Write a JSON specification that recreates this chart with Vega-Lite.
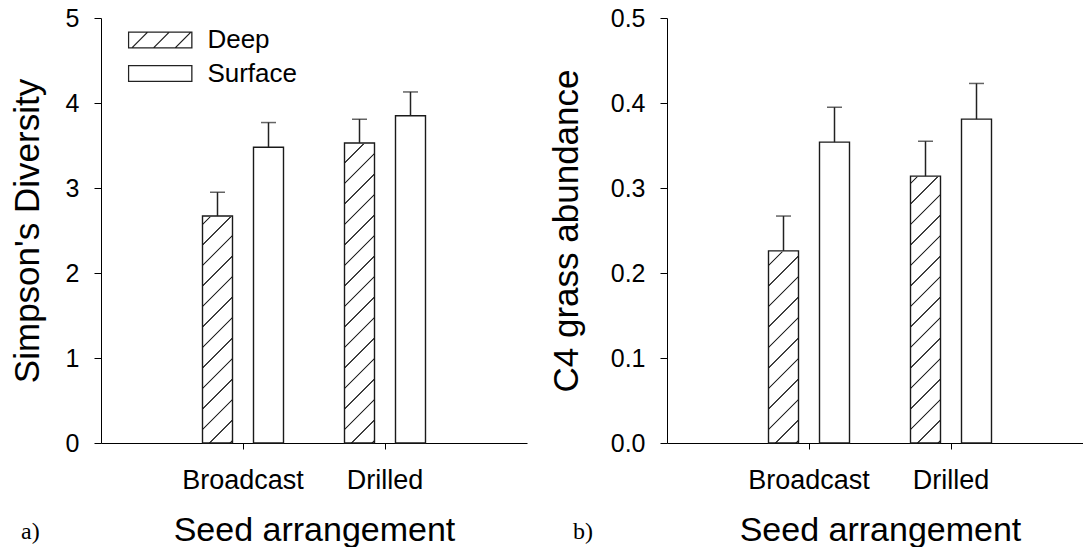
{
  "$schema": "https://vega.github.io/schema/vega-lite/v6.json",
  "padding": {"left": 10, "top": 6, "right": 0, "bottom": 0},
  "bounds": "flush",
  "spacing": 140,
  "config": {
    "view": {"stroke": null},
    "font": "Liberation Sans",
    "axis": {
      "grid": false,
      "domainColor": "#000",
      "tickColor": "#000",
      "labelColor": "#000",
      "titleColor": "#000",
      "titleFontWeight": "normal",
      "labelFont": "Liberation Sans",
      "titleFont": "Liberation Sans",
      "domainWidth": 1,
      "tickWidth": 1
    }
  },
  "hconcat": [
    {
      "width": 426,
      "height": 425,
      "title": {"text": "a)", "orient": "bottom", "anchor": "start", "frame": "group", "font": "Liberation Serif", "fontSize": 24, "fontWeight": "normal", "color": "#000", "baseline": "alphabetic", "offset": -8, "dx": -80},
      "data": {"values": [
        {"arrangement": "Broadcast", "depth": "Deep", "mean": 2.67, "upper": 2.95},
        {"arrangement": "Broadcast", "depth": "Surface", "mean": 3.48, "upper": 3.77},
        {"arrangement": "Drilled", "depth": "Deep", "mean": 3.53, "upper": 3.81},
        {"arrangement": "Drilled", "depth": "Surface", "mean": 3.85, "upper": 4.13}
      ]},
      "encoding": {
        "x": {"field": "arrangement", "type": "nominal", "sort": ["Broadcast", "Drilled"],
              "scale": {"paddingInner": 0.4296, "paddingOuter": 0.7148},
              "axis": {"title": "Seed arrangement", "labelAngle": 0, "tickSize": 6, "labelPadding": 18, "labelFontSize": 27, "titleFontSize": 34, "titlePadding": 20}},
        "xOffset": {"field": "depth", "type": "nominal", "sort": ["Deep", "Surface"],
                    "scale": {"paddingInner": 0.4118, "paddingOuter": 0}}
      },
      "layer": [
        {
          "transform": [{"filter": "datum.depth === 'Deep'"}],
          "mark": {"type": "bar", "strokeWidth": 0, "fill": {"gradient": "linear", "x1": 0, "y1": 0, "x2": 0.07602, "y2": 1.07699, "stops": [
            {"offset": 0, "color": "#fff"},
            {"offset": 0.04522, "color": "#fff"}, {"offset": 0.04696, "color": "#222"}, {"offset": 0.04870, "color": "#222"}, {"offset": 0.05044, "color": "#fff"},
            {"offset": 0.08978, "color": "#fff"}, {"offset": 0.09152, "color": "#222"}, {"offset": 0.09326, "color": "#222"}, {"offset": 0.09500, "color": "#fff"},
            {"offset": 0.13435, "color": "#fff"}, {"offset": 0.13609, "color": "#222"}, {"offset": 0.13783, "color": "#222"}, {"offset": 0.13957, "color": "#fff"},
            {"offset": 0.17891, "color": "#fff"}, {"offset": 0.18065, "color": "#222"}, {"offset": 0.18239, "color": "#222"}, {"offset": 0.18413, "color": "#fff"},
            {"offset": 0.22348, "color": "#fff"}, {"offset": 0.22522, "color": "#222"}, {"offset": 0.22696, "color": "#222"}, {"offset": 0.22870, "color": "#fff"},
            {"offset": 0.26804, "color": "#fff"}, {"offset": 0.26978, "color": "#222"}, {"offset": 0.27152, "color": "#222"}, {"offset": 0.27326, "color": "#fff"},
            {"offset": 0.31261, "color": "#fff"}, {"offset": 0.31435, "color": "#222"}, {"offset": 0.31609, "color": "#222"}, {"offset": 0.31783, "color": "#fff"},
            {"offset": 0.35717, "color": "#fff"}, {"offset": 0.35891, "color": "#222"}, {"offset": 0.36065, "color": "#222"}, {"offset": 0.36239, "color": "#fff"},
            {"offset": 0.40174, "color": "#fff"}, {"offset": 0.40348, "color": "#222"}, {"offset": 0.40522, "color": "#222"}, {"offset": 0.40696, "color": "#fff"},
            {"offset": 0.44630, "color": "#fff"}, {"offset": 0.44804, "color": "#222"}, {"offset": 0.44978, "color": "#222"}, {"offset": 0.45152, "color": "#fff"},
            {"offset": 0.49087, "color": "#fff"}, {"offset": 0.49261, "color": "#222"}, {"offset": 0.49435, "color": "#222"}, {"offset": 0.49609, "color": "#fff"},
            {"offset": 0.53543, "color": "#fff"}, {"offset": 0.53717, "color": "#222"}, {"offset": 0.53891, "color": "#222"}, {"offset": 0.54065, "color": "#fff"},
            {"offset": 0.58000, "color": "#fff"}, {"offset": 0.58174, "color": "#222"}, {"offset": 0.58348, "color": "#222"}, {"offset": 0.58522, "color": "#fff"},
            {"offset": 0.62457, "color": "#fff"}, {"offset": 0.62630, "color": "#222"}, {"offset": 0.62804, "color": "#222"}, {"offset": 0.62978, "color": "#fff"},
            {"offset": 0.66913, "color": "#fff"}, {"offset": 0.67087, "color": "#222"}, {"offset": 0.67261, "color": "#222"}, {"offset": 0.67435, "color": "#fff"},
            {"offset": 0.71370, "color": "#fff"}, {"offset": 0.71543, "color": "#222"}, {"offset": 0.71717, "color": "#222"}, {"offset": 0.71891, "color": "#fff"},
            {"offset": 0.75826, "color": "#fff"}, {"offset": 0.76000, "color": "#222"}, {"offset": 0.76174, "color": "#222"}, {"offset": 0.76348, "color": "#fff"},
            {"offset": 0.80283, "color": "#fff"}, {"offset": 0.80457, "color": "#222"}, {"offset": 0.80630, "color": "#222"}, {"offset": 0.80804, "color": "#fff"},
            {"offset": 0.84739, "color": "#fff"}, {"offset": 0.84913, "color": "#222"}, {"offset": 0.85087, "color": "#222"}, {"offset": 0.85261, "color": "#fff"},
            {"offset": 0.89196, "color": "#fff"}, {"offset": 0.89370, "color": "#222"}, {"offset": 0.89543, "color": "#222"}, {"offset": 0.89717, "color": "#fff"},
            {"offset": 0.93652, "color": "#fff"}, {"offset": 0.93826, "color": "#222"}, {"offset": 0.94000, "color": "#222"}, {"offset": 0.94174, "color": "#fff"},
            {"offset": 0.98109, "color": "#fff"}, {"offset": 0.98283, "color": "#222"}, {"offset": 0.98457, "color": "#222"}, {"offset": 0.98630, "color": "#fff"},
            {"offset": 1, "color": "#fff"}
          ]}},
          "encoding": {
            "y": {"datum": 5, "type": "quantitative", "title": "Simpson's Diversity", "scale": {"domain": [0, 5], "nice": false}},
            "y2": {"datum": 0}
          }
        },
        {
          "transform": [{"filter": "datum.depth === 'Deep'"}],
          "mark": {"type": "bar", "fill": "#fff", "stroke": "#fff", "strokeWidth": 1.5},
          "encoding": {
            "y": {"field": "mean", "type": "quantitative", "title": "Simpson's Diversity"},
            "y2": {"datum": 5}
          }
        },
        {
          "mark": {"type": "bar", "fill": "#fff", "fillOpacity": 0, "stroke": "#1a1a1a", "strokeWidth": 1.4},
          "encoding": {
            "y": {"field": "mean", "type": "quantitative", "title": "Simpson's Diversity",
                  "scale": {"domain": [0, 5], "nice": false},
                  "axis": {"values": [0, 1, 2, 3, 4, 5], "format": "d", "tickSize": 7, "labelPadding": 15, "labelFontSize": 25, "titleFontSize": 35, "titlePadding": 20}},
            "y2": {"datum": 0}
          }
        },
        {
          "mark": {"type": "rule", "color": "#222", "strokeWidth": 1.5},
          "encoding": {
            "y": {"field": "mean", "type": "quantitative", "title": "Simpson's Diversity"},
            "y2": {"field": "upper"}
          }
        },
        {
          "mark": {"type": "tick", "color": "#222", "size": 15, "thickness": 1.5},
          "encoding": {
            "y": {"field": "upper", "type": "quantitative", "title": "Simpson's Diversity"}
          }
        },
        {
          "mark": {"type": "point", "filled": false, "opacity": 0},
          "encoding": {
            "y": {"field": "mean", "type": "quantitative", "title": "Simpson's Diversity"},
            "shape": {"field": "depth", "type": "nominal",
              "scale": {"domain": ["Deep", "Surface"], "range": [
                "M-1,-0.248H1V0.248H-1Z M-0.894,0.248L-0.398,-0.248 M-0.211,0.248L0.285,-0.248 M0.474,0.248L0.97,-0.248",
                "M-1,-0.248H1V0.248H-1Z"
              ]},
              "legend": {"title": null, "orient": "none", "legendX": 26.7, "legendY": 7, "padding": 0,
                "symbolSize": 4007, "symbolStrokeColor": "#222", "symbolStrokeWidth": 1.3, "symbolFillColor": "transparent", "symbolOpacity": 1,
                "labelFontSize": 26, "labelFont": "Liberation Sans", "labelColor": "#000", "labelOffset": 14.7,
                "clipHeight": 30, "rowPadding": 3.5}}
          }
        }
      ]
    },
    {
      "width": 426,
      "height": 425,
      "title": {"text": "b)", "orient": "bottom", "anchor": "start", "frame": "group", "font": "Liberation Serif", "fontSize": 24, "fontWeight": "normal", "color": "#000", "baseline": "alphabetic", "offset": -8, "dx": -94},
      "data": {"values": [
        {"arrangement": "Broadcast", "depth": "Deep", "mean": 0.226, "upper": 0.267},
        {"arrangement": "Broadcast", "depth": "Surface", "mean": 0.354, "upper": 0.395},
        {"arrangement": "Drilled", "depth": "Deep", "mean": 0.314, "upper": 0.355},
        {"arrangement": "Drilled", "depth": "Surface", "mean": 0.381, "upper": 0.423}
      ]},
      "encoding": {
        "x": {"field": "arrangement", "type": "nominal", "sort": ["Broadcast", "Drilled"],
              "scale": {"paddingInner": 0.4296, "paddingOuter": 0.7148},
              "axis": {"title": "Seed arrangement", "labelAngle": 0, "tickSize": 6, "labelPadding": 18, "labelFontSize": 27, "titleFontSize": 34, "titlePadding": 20}},
        "xOffset": {"field": "depth", "type": "nominal", "sort": ["Deep", "Surface"],
                    "scale": {"paddingInner": 0.4118, "paddingOuter": 0}}
      },
      "layer": [
        {
          "transform": [{"filter": "datum.depth === 'Deep'"}],
          "mark": {"type": "bar", "strokeWidth": 0, "fill": {"gradient": "linear", "x1": 0, "y1": 0, "x2": 0.07602, "y2": 1.07699, "stops": [
            {"offset": 0, "color": "#fff"},
            {"offset": 0.04522, "color": "#fff"}, {"offset": 0.04696, "color": "#222"}, {"offset": 0.04870, "color": "#222"}, {"offset": 0.05044, "color": "#fff"},
            {"offset": 0.08978, "color": "#fff"}, {"offset": 0.09152, "color": "#222"}, {"offset": 0.09326, "color": "#222"}, {"offset": 0.09500, "color": "#fff"},
            {"offset": 0.13435, "color": "#fff"}, {"offset": 0.13609, "color": "#222"}, {"offset": 0.13783, "color": "#222"}, {"offset": 0.13957, "color": "#fff"},
            {"offset": 0.17891, "color": "#fff"}, {"offset": 0.18065, "color": "#222"}, {"offset": 0.18239, "color": "#222"}, {"offset": 0.18413, "color": "#fff"},
            {"offset": 0.22348, "color": "#fff"}, {"offset": 0.22522, "color": "#222"}, {"offset": 0.22696, "color": "#222"}, {"offset": 0.22870, "color": "#fff"},
            {"offset": 0.26804, "color": "#fff"}, {"offset": 0.26978, "color": "#222"}, {"offset": 0.27152, "color": "#222"}, {"offset": 0.27326, "color": "#fff"},
            {"offset": 0.31261, "color": "#fff"}, {"offset": 0.31435, "color": "#222"}, {"offset": 0.31609, "color": "#222"}, {"offset": 0.31783, "color": "#fff"},
            {"offset": 0.35717, "color": "#fff"}, {"offset": 0.35891, "color": "#222"}, {"offset": 0.36065, "color": "#222"}, {"offset": 0.36239, "color": "#fff"},
            {"offset": 0.40174, "color": "#fff"}, {"offset": 0.40348, "color": "#222"}, {"offset": 0.40522, "color": "#222"}, {"offset": 0.40696, "color": "#fff"},
            {"offset": 0.44630, "color": "#fff"}, {"offset": 0.44804, "color": "#222"}, {"offset": 0.44978, "color": "#222"}, {"offset": 0.45152, "color": "#fff"},
            {"offset": 0.49087, "color": "#fff"}, {"offset": 0.49261, "color": "#222"}, {"offset": 0.49435, "color": "#222"}, {"offset": 0.49609, "color": "#fff"},
            {"offset": 0.53543, "color": "#fff"}, {"offset": 0.53717, "color": "#222"}, {"offset": 0.53891, "color": "#222"}, {"offset": 0.54065, "color": "#fff"},
            {"offset": 0.58000, "color": "#fff"}, {"offset": 0.58174, "color": "#222"}, {"offset": 0.58348, "color": "#222"}, {"offset": 0.58522, "color": "#fff"},
            {"offset": 0.62457, "color": "#fff"}, {"offset": 0.62630, "color": "#222"}, {"offset": 0.62804, "color": "#222"}, {"offset": 0.62978, "color": "#fff"},
            {"offset": 0.66913, "color": "#fff"}, {"offset": 0.67087, "color": "#222"}, {"offset": 0.67261, "color": "#222"}, {"offset": 0.67435, "color": "#fff"},
            {"offset": 0.71370, "color": "#fff"}, {"offset": 0.71543, "color": "#222"}, {"offset": 0.71717, "color": "#222"}, {"offset": 0.71891, "color": "#fff"},
            {"offset": 0.75826, "color": "#fff"}, {"offset": 0.76000, "color": "#222"}, {"offset": 0.76174, "color": "#222"}, {"offset": 0.76348, "color": "#fff"},
            {"offset": 0.80283, "color": "#fff"}, {"offset": 0.80457, "color": "#222"}, {"offset": 0.80630, "color": "#222"}, {"offset": 0.80804, "color": "#fff"},
            {"offset": 0.84739, "color": "#fff"}, {"offset": 0.84913, "color": "#222"}, {"offset": 0.85087, "color": "#222"}, {"offset": 0.85261, "color": "#fff"},
            {"offset": 0.89196, "color": "#fff"}, {"offset": 0.89370, "color": "#222"}, {"offset": 0.89543, "color": "#222"}, {"offset": 0.89717, "color": "#fff"},
            {"offset": 0.93652, "color": "#fff"}, {"offset": 0.93826, "color": "#222"}, {"offset": 0.94000, "color": "#222"}, {"offset": 0.94174, "color": "#fff"},
            {"offset": 0.98109, "color": "#fff"}, {"offset": 0.98283, "color": "#222"}, {"offset": 0.98457, "color": "#222"}, {"offset": 0.98630, "color": "#fff"},
            {"offset": 1, "color": "#fff"}
          ]}},
          "encoding": {
            "y": {"datum": 0.5, "type": "quantitative", "title": "C4 grass abundance", "scale": {"domain": [0, 0.5], "nice": false}},
            "y2": {"datum": 0}
          }
        },
        {
          "transform": [{"filter": "datum.depth === 'Deep'"}],
          "mark": {"type": "bar", "fill": "#fff", "stroke": "#fff", "strokeWidth": 1.5},
          "encoding": {
            "y": {"field": "mean", "type": "quantitative", "title": "C4 grass abundance"},
            "y2": {"datum": 0.5}
          }
        },
        {
          "mark": {"type": "bar", "fill": "#fff", "fillOpacity": 0, "stroke": "#1a1a1a", "strokeWidth": 1.4},
          "encoding": {
            "y": {"field": "mean", "type": "quantitative", "title": "C4 grass abundance",
                  "scale": {"domain": [0, 0.5], "nice": false},
                  "axis": {"values": [0, 0.1, 0.2, 0.3, 0.4, 0.5], "format": ".1f", "tickSize": 7, "labelPadding": 15, "labelFontSize": 25, "titleFontSize": 35, "titlePadding": 26}},
            "y2": {"datum": 0}
          }
        },
        {
          "mark": {"type": "rule", "color": "#222", "strokeWidth": 1.5},
          "encoding": {
            "y": {"field": "mean", "type": "quantitative", "title": "C4 grass abundance"},
            "y2": {"field": "upper"}
          }
        },
        {
          "mark": {"type": "tick", "color": "#222", "size": 15, "thickness": 1.5},
          "encoding": {
            "y": {"field": "upper", "type": "quantitative", "title": "C4 grass abundance"}
          }
        }
      ]
    }
  ]
}
